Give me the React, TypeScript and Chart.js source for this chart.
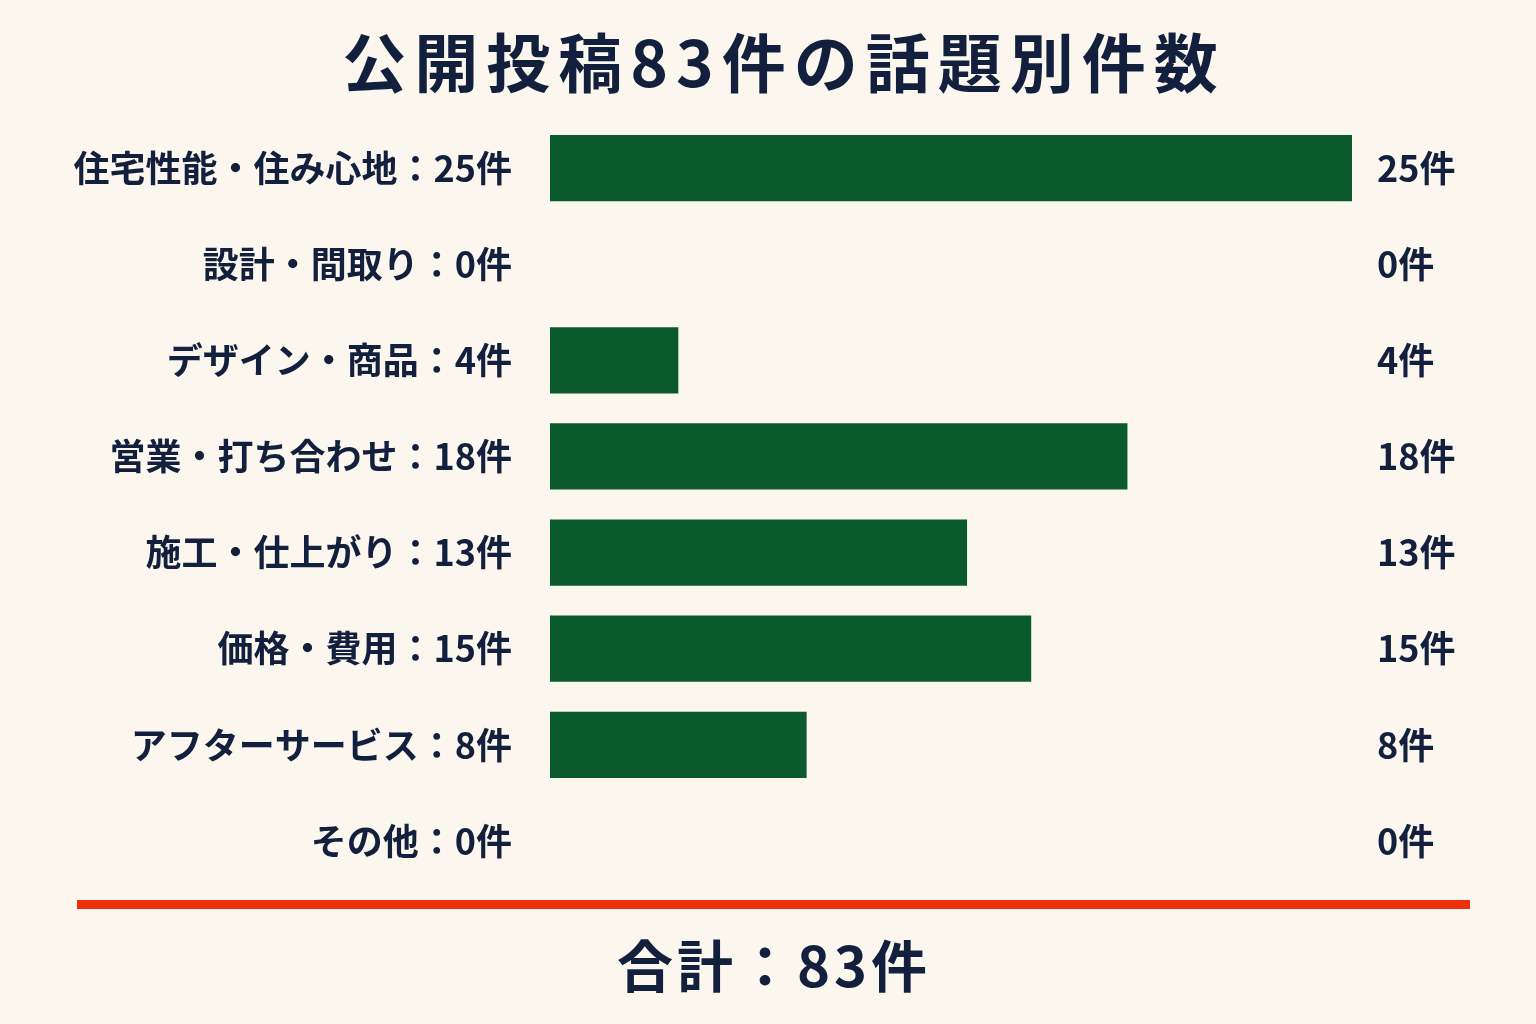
import { useEffect, useRef } from "react";
import { Chart, registerables } from "chart.js";

Chart.register(...registerables);

const titleText = "公開投稿83件の話題別件数";
const categories = [
  "住宅性能・住み心地",
  "設計・間取り",
  "デザイン・商品",
  "営業・打ち合わせ",
  "施工・仕上がり",
  "価格・費用",
  "アフターサービス",
  "その他",
];
const counts = [25, 0, 4, 18, 13, 15, 8, 0];
const totalCount = 83;

const FONT = "'Noto Sans CJK JP', 'Noto Sans', sans-serif";
const NAVY = "#13203d";
const GREEN = "#0b5a2e";
const RED = "#f0300c";
const BG = "#fbf7ef";

// 右側の件数・タイトル・合計欄を描く
const extrasPlugin = {
  id: "extras",
  afterDraw(chart) {
    const { ctx, chartArea, scales } = chart;
    const w = chart.width;
    ctx.save();
    ctx.fillStyle = NAVY;

    // タイトル
    ctx.font = `bold 64px ${FONT}`;
    ctx.textAlign = "center";
    ctx.textBaseline = "middle";
    ctx.letterSpacing = "8px";
    ctx.fillText(titleText, w / 2 + 16, 63);
    ctx.letterSpacing = "0px";

    // 右の件数
    ctx.font = `bold 36px ${FONT}`;
    ctx.textAlign = "left";
    counts.forEach((v, i) => {
      const y = scales.y.getPixelForValue(i);
      ctx.fillText(`${v}件`, chartArea.right + 25, y);
    });

    // 赤線
    ctx.fillStyle = RED;
    ctx.fillRect(77, chartArea.bottom + 11, 1393, 9);

    // 合計
    ctx.fillStyle = NAVY;
    ctx.font = `bold 56px ${FONT}`;
    ctx.textAlign = "center";
    ctx.letterSpacing = "4px";
    ctx.fillText(`合計：${totalCount}件`, w / 2 + 6, chartArea.bottom + 77);
    ctx.restore();
  },
};

export default function App() {
  const ref = useRef(null);

  useEffect(() => {
    document.body.style.margin = "0";
    const chart = new Chart(ref.current, {
      type: "bar",
      data: {
        labels: categories,
        datasets: [
          {
            data: counts,
            backgroundColor: GREEN,
            borderWidth: 0,
            barPercentage: 0.69,
            categoryPercentage: 1,
          },
        ],
      },
      options: {
        indexAxis: "y",
        responsive: true,
        maintainAspectRatio: false,
        animation: false,
        layout: {
          padding: { top: 120, right: 184, bottom: 135, left: 0 },
        },
        scales: {
          x: {
            min: 0,
            max: 25,
            display: false,
          },
          y: {
            grid: { display: false },
            border: { display: false },
            ticks: {
              color: NAVY,
              padding: 30,
              font: { family: FONT, size: 36, weight: "bold" },
              callback: (value, index) => `${categories[index]}：${counts[index]}件`,
            },
            afterFit: (scale) => {
              scale.width = 550;
            },
          },
        },
        plugins: {
          legend: { display: false },
          tooltip: { enabled: false },
        },
      },
      plugins: [extrasPlugin],
    });

    return () => {
      chart.destroy();
    };
  }, []);

  return (
    <div style={{ position: "fixed", inset: 0, width: 1536, height: 1024, background: BG }}>
      <canvas ref={ref}></canvas>
    </div>
  );
}
